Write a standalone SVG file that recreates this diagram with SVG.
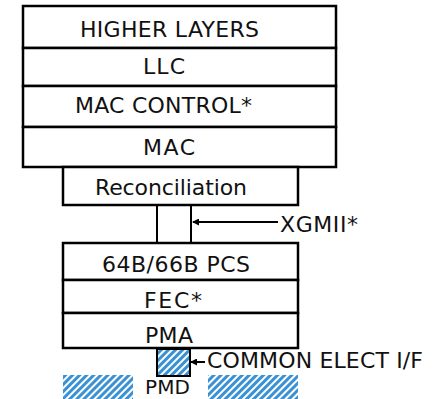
<svg xmlns="http://www.w3.org/2000/svg" width="438" height="399" viewBox="0 0 438 399">
<style>
.box{fill:#fff;stroke:#000;stroke-width:2.5}
.hatch{fill:url(#h);stroke:none}
.hatchb{fill:url(#h);stroke:#000;stroke-width:2}
.t{font-family:"DejaVu Sans",Verdana,sans-serif;font-size:22px;fill:#111}
.ln{stroke:#000;stroke-width:2;fill:none}
</style>
<defs>
<pattern id="h" width="5" height="5" patternUnits="userSpaceOnUse" patternTransform="rotate(45)">
<rect width="5" height="5" fill="#ffffff"/>
<rect width="3" height="5" fill="#3a92d4"/>
</pattern>
<marker id="a" markerWidth="7" markerHeight="7" refX="6" refY="3.5" orient="auto" markerUnits="userSpaceOnUse">
<path d="M0,0 L7,3.5 L0,7 Z" fill="#000"/>
</marker>
</defs>
<g id="higher-layers"><rect class="box" x="23" y="6" width="313" height="42"/><text class="t" x="80" y="37" textLength="179" lengthAdjust="spacing">HIGHER LAYERS</text></g>
<g id="llc"><rect class="box" x="23" y="48" width="313" height="38"/><text class="t" x="143" y="74" textLength="42" lengthAdjust="spacing">LLC</text></g>
<g id="mac-control"><rect class="box" x="23" y="86" width="313" height="41"/><text class="t" x="75" y="113" textLength="177" lengthAdjust="spacing">MAC CONTROL*</text></g>
<g id="mac"><rect class="box" x="23" y="127" width="313" height="40"/><text class="t" x="143" y="155" textLength="52" lengthAdjust="spacing">MAC</text></g>
<g id="reconciliation"><rect class="box" x="63" y="167" width="235" height="38"/><text class="t" x="95" y="195" textLength="152" lengthAdjust="spacing">Reconciliation</text></g>
<g id="pcs"><rect class="box" x="63" y="243" width="235" height="37"/><text class="t" x="102" y="272" textLength="148" lengthAdjust="spacing">64B/66B PCS</text></g>
<g id="fec"><rect class="box" x="63" y="280" width="235" height="33"/><text class="t" x="144" y="308" textLength="58" lengthAdjust="spacing">FEC*</text></g>
<g id="pma"><rect class="box" x="63" y="313" width="235" height="35"/><text class="t" x="145" y="343" textLength="48" lengthAdjust="spacing">PMA</text></g>
<g id="common-elect"><rect class="hatchb" x="157" y="349" width="33" height="27"/></g>
<g id="pmd"><rect class="hatch" x="63" y="375" width="70" height="30"/><rect class="hatch" x="208" y="375" width="90" height="30"/><text class="t" x="145" y="394" style="font-size:20px" textLength="45" lengthAdjust="spacing">PMD</text></g>
<g id="connectors">
<line class="ln" x1="278" y1="222" x2="193" y2="222" marker-end="url(#a)"/>
<line class="ln" x1="157" y1="205" x2="157" y2="243"/>
<line class="ln" x1="191" y1="205" x2="191" y2="243"/>
<line class="ln" x1="205" y1="362" x2="191" y2="362" marker-end="url(#a)"/>
</g>
<g id="labels">
<text class="t" x="280" y="232" textLength="78" lengthAdjust="spacing">XGMII*</text>
<text class="t" x="207" y="368" textLength="216" lengthAdjust="spacing">COMMON ELECT I/F</text>
</g>
</svg>
